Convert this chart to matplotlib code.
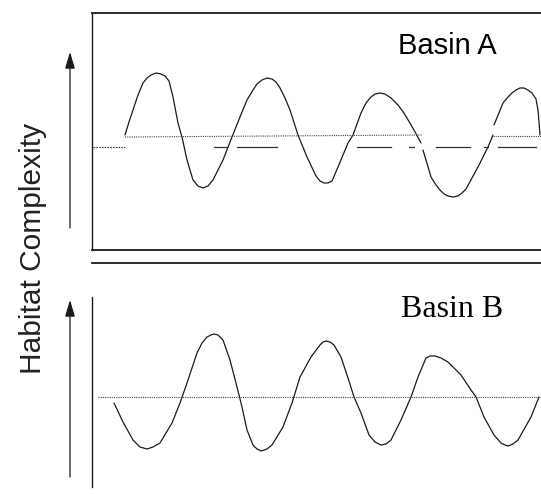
import numpy as np
import matplotlib
matplotlib.use("Agg")
import matplotlib.pyplot as plt

# ---------------- data (arbitrary units) ----------------
# Basin A: habitat complexity through time (solid wave); NaN = small gaps in trace
a_time = [33, 37, 41, 46, 51, 55, 59, 64, 69, 73, 77, 81, 86, 90, 95, 101, 106, 111, 116,
          121, 131, 140, 148, 155, 161, 165, 170, 175, 180, 184, 188, 193, 198, 206, 215,
          224, 228, 232, 236, 240, 246, 256, 261, 269, 274, 279, 283, 288, 293, 299, 306,
          312, 322, 329, np.nan, 331, 339, 344, 348, 352, 356, 361, 366, 370, 374, 386,
          396, 401, np.nan, 402, 411, 416, 420, 424, 428, 432, 436, 440, 444, 446, 448]
a_value = [115, 128, 140, 155, 167, 172, 175, 177, 176, 174, 169, 153, 127, 113, 90, 70,
           64, 62, 64, 70, 90, 113, 133, 150, 160, 166, 170, 172, 171, 168, 162, 152, 140,
           115, 93, 74, 69, 67, 67, 69, 83, 107, 115, 137, 147, 153, 156, 157, 156, 152,
           145, 137, 120, 107, np.nan, 100, 73, 65, 60, 56, 54, 53, 54, 57, 61, 83,
           103, 115, np.nan, 125, 147, 153, 157, 160, 162, 162, 160, 157, 151, 140, 115]
# Basin A mean level (dotted), in two pieces
a_mean_time = [[33, 330], [401, 449]]
a_mean_value = [[113, 115], [114, 114]]
# Basin A second reference level (broken dashed line)
a_ref_level = 103
a_ref_segments = [(1, 33), (122, 135), (145, 185), (265, 299), (317, 322),
                  (344, 378), (392, 396), (406, 444)]

# Basin B: habitat complexity through time (solid wave)
b_time = [22, 31, 41, 48, 55, 61, 68, 80, 88, 95, 105, 110, 115, 119, 122, 126, 131, 138,
          145, 150, 155, 161, 165, 169, 175, 180, 191, 200, 208, 219, 228, 231, 234, 238,
          242, 249, 256, 262, 269, 277, 283, 289, 294, 299, 309, 319, 326, 334, 338, 343,
          349, 356, 369, 379, 384, 392, 402, 409, 413, 416, 421, 426, 439, 447]
b_value = [84, 65, 47, 40, 38, 40, 44, 64, 84, 104, 134, 144, 150, 152, 153, 152, 147, 127,
           100, 80, 57, 42, 38, 36, 38, 42, 60, 84, 110, 130, 142, 145, 146, 145, 142, 130,
           109, 90, 74, 52, 45, 42, 43, 47, 67, 90, 110, 129, 131, 131, 129, 125, 112, 97,
           90, 70, 52, 44, 42, 41, 43, 47, 70, 90]
b_mean_time = [6, 449]
b_mean_value = [90, 90]

panel_labels = ["Basin A", "Basin B"]
y_label = "Habitat Complexity"

# ---------------- figure ----------------
W, H = 541, 494
fig = plt.figure(figsize=(W / 100, H / 100), dpi=100)

def frac(left, top, right, bottom):
    return [left / W, 1 - bottom / H, (right - left) / W, (bottom - top) / H]

ink = "#1a1a1a"
axA = fig.add_axes(frac(92, 13, 541, 250))
axB = fig.add_axes(frac(92, 263, 541, 487))

for ax in (axA, axB):
    ax.set_xlim(0, 449)
    ax.set_xticks([])
    ax.set_yticks([])
    ax.spines["right"].set_visible(False)
    for s in ax.spines.values():
        s.set_color(ink)
        s.set_linewidth(1.3)

axA.set_ylim(0, 237)
axA.spines["left"].set_linewidth(1.0)
axB.set_ylim(0, 224)
axB.spines["bottom"].set_visible(False)
axB.spines["left"].set_bounds(0, 190)
axB.spines["left"].set_linewidth(1.0)

# Basin A
axA.plot(a_time, a_value, color=ink, lw=0.9, solid_capstyle="round", solid_joinstyle="round")
for t, v in zip(a_mean_time, a_mean_value):
    axA.plot(t, v, color="#444444", lw=0.8, ls=(0, (1, 1)))
for i, (s, e) in enumerate(a_ref_segments):
    axA.plot([s, e], [a_ref_level, a_ref_level], color="#333333",
             lw=0.9 if i else 0.8, ls=(0, (1.5, 1)) if i == 0 else "-")
axA.text(355, 196, panel_labels[0], family="Liberation Sans", fontsize=21,
         color="black", ha="center", va="baseline")

# Basin B
axB.plot(b_time, b_value, color=ink, lw=0.9, solid_capstyle="round", solid_joinstyle="round")
axB.plot(b_mean_time, b_mean_value, color="#444444", lw=0.8, ls=(0, (1, 1)))
axB.text(360, 170, panel_labels[1], family="Liberation Serif", fontsize=23,
         color="black", ha="center", va="baseline")

# arrows along the y direction
arrow = dict(arrowstyle="-|>,head_length=1.0,head_width=0.3", color=ink, lw=0.9,
             mutation_scale=10, shrinkA=0, shrinkB=0)
axA.annotate("", xy=(-22, 198), xytext=(-22, 22), xycoords="data",
             arrowprops=arrow, annotation_clip=False)
axB.annotate("", xy=(-22, 187), xytext=(-22, 10), xycoords="data",
             arrowprops=arrow, annotation_clip=False)

fig.text(33 / W, 1 - 248 / H, y_label, rotation=90, ha="center", va="center",
         family="Liberation Sans", fontsize=21.5, color="#222222")

fig.savefig("out.png", dpi=100)
